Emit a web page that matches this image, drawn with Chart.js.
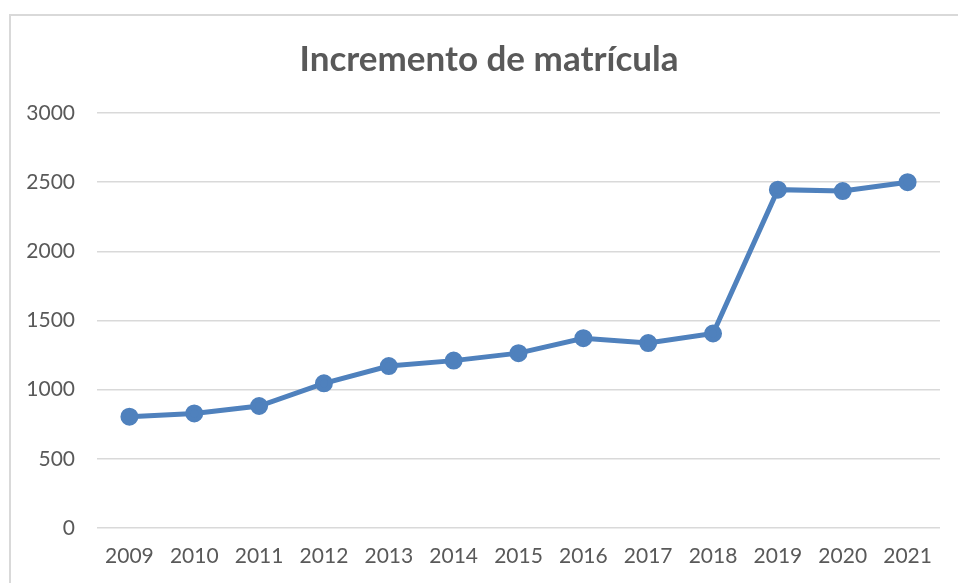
<!DOCTYPE html>
<html>
<head>
<meta charset="utf-8">
<script src="https://cdn.jsdelivr.net/npm/chart.js@4.4.1/dist/chart.umd.min.js"></script>
<style>
  html, body { margin: 0; padding: 0; background: #fff; overflow: hidden; }
  #marco { position: absolute; left: 9px; top: 14px; width: 1000px; height: 1000px;
           border-top: 2px solid #d9d9d9; border-left: 2px solid #d9d9d9; box-sizing: border-box; }
  #wrap { position: absolute; left: 0; top: 0; width: 958px; height: 583px; }
</style>
</head>
<body>
<div id="marco"></div>
<div id="wrap"><canvas id="grafico"></canvas></div>
<script>
const anos = ['2009','2010','2011','2012','2013','2014','2015','2016','2017','2018','2019','2020','2021'];
const matricula = [805, 828, 882, 1046, 1171, 1210, 1264, 1372, 1337, 1406, 2446, 2436, 2500];
const ticksY = [0, 500, 1000, 1500, 2000, 2500, 3000];

const gris = '#595959';
const fuente = 'Lato, "Open Sans", sans-serif';

// corre el título un poco a la derecha, como en el original
const moverTitulo = {
  id: 'moverTitulo',
  afterLayout: chart => { if (chart.titleBlock) chart.titleBlock.left = 38; }
};

new Chart(document.getElementById('grafico'), {
  type: 'line',
  data: {
    labels: anos,
    datasets: [{
      label: 'Matrícula',
      data: matricula,
      borderColor: '#4F81BD',
      backgroundColor: '#4F81BD',
      borderWidth: 5,
      pointRadius: 6.5,
      pointHoverRadius: 6.5,
      tension: 0
    }]
  },
  options: {
    responsive: true,
    maintainAspectRatio: false,
    animation: false,
    layout: { padding: { left: 0, right: 18, top: 0, bottom: 0 } },
    plugins: {
      legend: { display: false },
      tooltip: { enabled: false },
      title: {
        display: true,
        text: 'Incremento de matrícula',
        color: gris,
        font: { family: fuente, size: 35, weight: 'bold' },
        padding: { top: 39, bottom: 32 }
      }
    },
    scales: {
      x: {
        offset: true,
        grid: { display: false, drawTicks: false },
        border: { display: false },
        ticks: { color: gris, font: { family: fuente, size: 21 }, padding: 16, maxRotation: 0 },
        afterFit: s => { s.height = 55; }
      },
      y: {
        min: 0,
        max: 3000,
        afterBuildTicks: s => { s.ticks = ticksY.map(v => ({ value: v })); },
        grid: { color: '#d9d9d9', lineWidth: 1.5, drawTicks: false },
        border: { display: false },
        ticks: { color: gris, font: { family: fuente, size: 21 }, padding: 22, callback: v => String(v) },
        afterFit: s => { s.width = 97; }
      }
    }
  },
  plugins: [moverTitulo]
});
</script>
</body>
</html>
